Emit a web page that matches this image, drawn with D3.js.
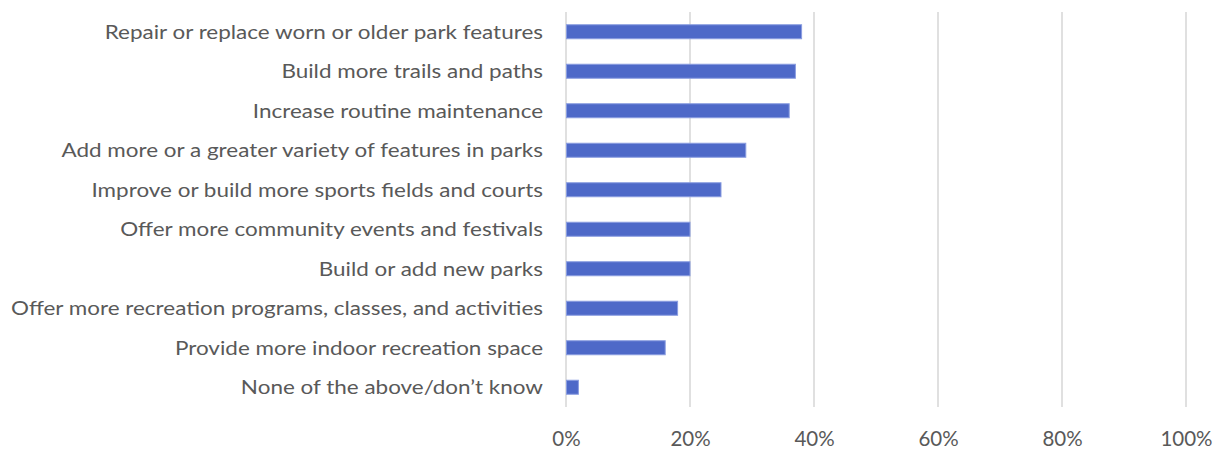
<!DOCTYPE html>
<html>
<head>
<meta charset="utf-8">
<script src="https://cdn.jsdelivr.net/npm/d3@7"></script>
<style>
  html, body { margin: 0; padding: 0; background: #fff; }
  svg { display: block; }
</style>
</head>
<body>
<svg id="chart" width="1220" height="449"></svg>
<script>
// Survey responses: share of respondents choosing each park improvement
const categories = [
  "Repair or replace worn or older park features",
  "Build more trails and paths",
  "Increase routine maintenance",
  "Add more or a greater variety of features in parks",
  "Improve or build more sports fields and courts",
  "Offer more community events and festivals",
  "Build or add new parks",
  "Offer more recreation programs, classes, and activities",
  "Provide more indoor recreation space",
  "None of the above/don\u2019t know"
];
const values = [0.38, 0.37, 0.36, 0.29, 0.25, 0.20, 0.20, 0.18, 0.16, 0.02];
const xTicks = [0, 0.2, 0.4, 0.6, 0.8, 1.0];
const xTickLabels = ["0%", "20%", "40%", "60%", "80%", "100%"];

const svg = d3.select("#chart");
const W = 1220, H = 449;
const margin = { top: 12, right: 34, bottom: 42, left: 566 };

const x = d3.scaleLinear().domain([0, 1]).range([margin.left, W - margin.right]);
const y = d3.scaleBand().domain(categories).range([margin.top, H - margin.bottom]).paddingInner(0.645).paddingOuter(0.3225);

const font = "Lato, 'Open Sans', sans-serif";
const textColor = "#595959";

// vertical gridlines
svg.append("g")
  .selectAll("line")
  .data(xTicks)
  .join("line")
  .attr("x1", d => x(d)).attr("x2", d => x(d))
  .attr("y1", margin.top).attr("y2", H - margin.bottom)
  .attr("stroke", "#d9d9d9")
  .attr("stroke-width", 1.6);

// bars
svg.append("g")
  .selectAll("rect")
  .data(categories)
  .join("rect")
  .attr("x", x(0) + 0.5)
  .attr("y", d => y(d))
  .attr("width", (d, i) => Math.max(0, x(values[i]) - x(0) - 0.5))
  .attr("height", y.bandwidth())
  .attr("fill", "#4e69c8")
  .attr("stroke", "#8a9de0")
  .attr("stroke-width", 1);

// category labels
const yAxis = d3.axisLeft(y).tickSize(0).tickPadding(23);
const yg = svg.append("g").attr("transform", `translate(${margin.left},0)`).call(yAxis);
yg.select(".domain").remove();
yg.selectAll("text")
  .attr("fill", textColor)
  .style("font-family", font)
  .style("font-size", "19.5px")
  .attr("dy", "0.36em");

// condense the labels uniformly so the longest one spans the same width
const nodes = yg.selectAll("text").nodes();
const longest = d3.max(nodes, n => n.getComputedTextLength());
const factor = 532 / longest;
nodes.forEach(n => {
  const w = n.getComputedTextLength();
  n.setAttribute("textLength", w * factor);
  n.setAttribute("lengthAdjust", "spacingAndGlyphs");
});

// x axis tick labels
const xAxis = d3.axisBottom(x).tickValues(xTicks).tickFormat((d, i) => xTickLabels[i]).tickSize(0).tickPadding(24);
const xg = svg.append("g").attr("transform", `translate(0,${H - margin.bottom})`).call(xAxis);
xg.select(".domain").remove();
xg.selectAll("text")
  .attr("fill", textColor)
  .style("font-family", font)
  .style("font-size", "20.5px");
</script>
</body>
</html>
